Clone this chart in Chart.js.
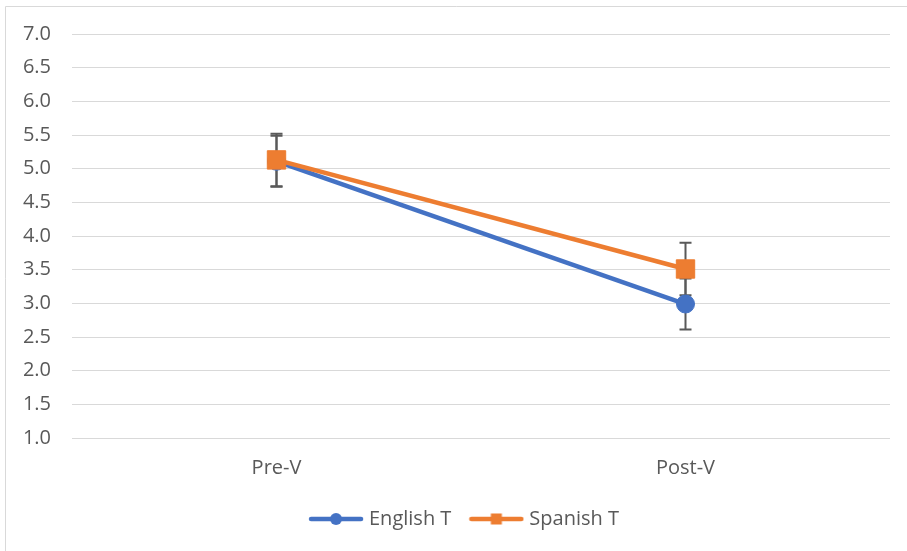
<!DOCTYPE html>
<html><head><meta charset="utf-8">
<script src="https://cdn.jsdelivr.net/npm/chart.js@4/dist/chart.umd.min.js"></script>
<style>html,body{margin:0;padding:0;background:#fff;}</style>
</head><body>
<canvas id="c" width="907" height="551"></canvas>
<script>
// ---- data ----
const categories = ['Pre-V', 'Post-V'];
const seriesNames = ['English T', 'Spanish T'];
const englishT = [5.11, 2.99];
const spanishT = [5.13, 3.51];
const englishErr = [0.38, 0.38];
const spanishErr = [0.39, 0.39];
const yMin = 1.0, yMax = 7.0, yStep = 0.5;

const BLUE = '#4472C4', ORANGE = '#ED7D31', TEXT = '#595959', GRID = '#D9D9D9';
const FONT = "'Open Sans', sans-serif";

function legendIcon(color, style) {
  const c = document.createElement('canvas');
  c.width = 56; c.height = 20;
  const g = c.getContext('2d');
  g.strokeStyle = color; g.lineWidth = 4.5; g.lineCap = 'round';
  g.beginPath(); g.moveTo(3, 10); g.lineTo(53, 10); g.stroke();
  g.fillStyle = color;
  if (style === 'circle') { g.beginPath(); g.arc(28, 10, 6, 0, Math.PI * 2); g.fill(); }
  else { g.fillRect(22.5, 4.5, 11, 11); }
  return c;
}
const icons = [legendIcon(BLUE, 'circle'), legendIcon(ORANGE, 'rect')];

const errorBars = {
  id: 'errorBars',
  beforeDatasetsDraw(chart) {
    const ctx = chart.ctx, ys = chart.scales.y;
    ctx.save();
    ctx.strokeStyle = '#595959'; ctx.lineWidth = 2;
    chart.data.datasets.forEach((ds, i) => {
      const meta = chart.getDatasetMeta(i);
      meta.data.forEach((pt, j) => {
        const v = ds.data[j], e = ds.errors[j];
        const yt = ys.getPixelForValue(v + e), yb = ys.getPixelForValue(v - e);
        const x = pt.x;
        ctx.beginPath();
        ctx.moveTo(x, yt); ctx.lineTo(x, yb);
        ctx.moveTo(x - 6, yt); ctx.lineTo(x + 6, yt);
        ctx.moveTo(x - 6, yb); ctx.lineTo(x + 6, yb);
        ctx.stroke();
      });
    });
    ctx.restore();
  }
};

const frame = {
  id: 'frame',
  afterLayout(chart) {
    // shift legend block to the right (legend centred under the plot area as in reference)
    if (chart.legend) chart.legend.left += 42;
  },
  beforeDraw(chart) {
    const ctx = chart.ctx;
    ctx.save();
    ctx.strokeStyle = GRID; ctx.lineWidth = 1;
    ctx.beginPath();
    ctx.moveTo(5.5, chart.height); ctx.lineTo(5.5, 6.5); ctx.lineTo(chart.width, 6.5);
    ctx.stroke();
    ctx.restore();
  }
};

new Chart(document.getElementById('c'), {
  type: 'line',
  data: {
    labels: categories,
    datasets: [
      { label: seriesNames[0], data: englishT, errors: englishErr, order: 1,
        borderColor: BLUE, backgroundColor: BLUE, borderWidth: 4.5,
        pointStyle: 'circle', pointRadius: 9, pointBorderWidth: 1,
        pointBackgroundColor: BLUE, pointBorderColor: BLUE },
      { label: seriesNames[1], data: spanishT, errors: spanishErr, order: 0,
        borderColor: ORANGE, backgroundColor: ORANGE, borderWidth: 4.5,
        pointStyle: 'rect', pointRadius: 13, pointBorderWidth: 1,
        pointBackgroundColor: ORANGE, pointBorderColor: ORANGE }
    ]
  },
  options: {
    responsive: false, animation: false,
    layout: { padding: { left: 0, right: 17, top: 34, bottom: 12 } },
    plugins: {
      tooltip: { enabled: false },
      legend: {
        position: 'bottom',
        labels: {
          color: TEXT, font: { family: FONT, size: 20 },
          usePointStyle: true, pointStyleWidth: 46, padding: 22,
          generateLabels(chart) {
            return chart.data.datasets.map((ds, i) => ({
              text: ds.label, pointStyle: icons[i], fontColor: TEXT,
              datasetIndex: i, hidden: false, lineWidth: 0
            }));
          }
        }
      }
    },
    scales: {
      x: {
        offset: true,
        grid: { display: false, drawTicks: false },
        border: { display: false },
        ticks: { color: TEXT, font: { family: FONT, size: 20 }, padding: 18 },
        afterFit(s) { s.height = 49; }
      },
      y: {
        min: yMin, max: yMax,
        grid: { color: GRID, lineWidth: 1, drawTicks: false },
        border: { display: false },
        ticks: { stepSize: yStep, color: TEXT, font: { family: FONT, size: 20 }, padding: 21,
                 callback: v => v.toFixed(1) },
        afterFit(s) { s.width = 72; }
      }
    }
  },
  plugins: [errorBars, frame]
});
</script>
</body></html>
